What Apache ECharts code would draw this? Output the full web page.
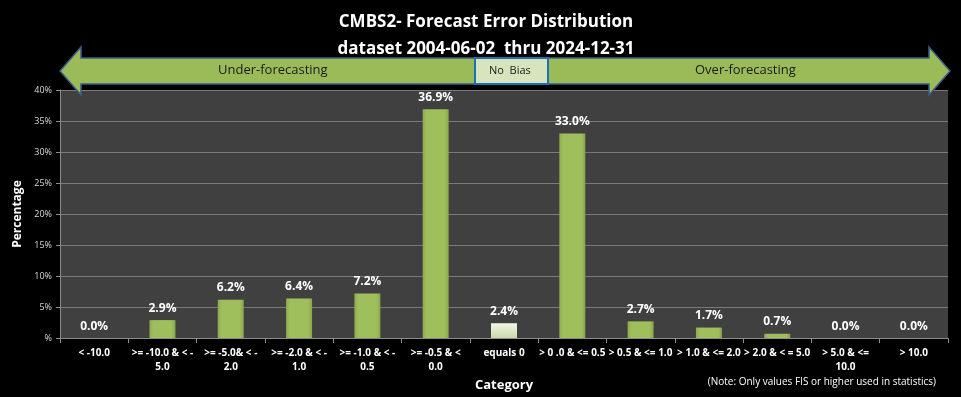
<!DOCTYPE html>
<html>
<head>
<meta charset="utf-8">
<script src="https://cdn.jsdelivr.net/npm/echarts@6/dist/echarts.min.js"></script>
<style>
  html, body { margin: 0; padding: 0; background: #000; }
  #main { width: 961px; height: 397px; }
</style>
</head>
<body>
<div id="main"></div>
<script>
var categories = [
    '< -10.0', '>= -10.0 & < -\n5.0', '>= -5.0& < -\n2.0', '>= -2.0 & < -\n1.0',
    '>= -1.0 & < -\n0.5', '>= -0.5 & <\n0.0', 'equals 0', '> 0 .0 & <= 0.5',
    '> 0.5 & <= 1.0', '> 1.0 & <= 2.0', '> 2.0 & < = 5.0', '> 5.0 & <=\n10.0', '> 10.0'
];
var percentValues = [0.0, 2.9, 6.2, 6.4, 7.2, 36.9, 2.4, 33.0, 2.7, 1.7, 0.7, 0.0, 0.0];
var zeroIndex = 6;

var fontFam = '"Open Sans", sans-serif';

// green bars, the "equals 0" bar is paler
function barColor(i) {
    if (i === zeroIndex) {
        return new echarts.graphic.LinearGradient(0, 0, 0, 1, [
            { offset: 0, color: '#f2f7e6' },
            { offset: 1, color: '#c9d9a8' }
        ]);
    }
    return new echarts.graphic.LinearGradient(0, 0, 1, 0, [
        { offset: 0, color: '#8dab4f' },
        { offset: 0.15, color: '#9fbf5c' },
        { offset: 0.85, color: '#9fbf5c' },
        { offset: 1, color: '#87a44c' }
    ]);
}

var seriesData = percentValues.map(function (v, i) {
    return { value: v, itemStyle: { color: barColor(i) } };
});

var myChart = echarts.init(document.getElementById('main'));

var option = {
    backgroundColor: '#000000',
    textStyle: { fontFamily: fontFam },
    title: {
        text: 'CMBS2- Forecast Error Distribution\ndataset 2004-06-02  thru 2024-12-31',
        left: 481,
        textAlign: 'center',
        top: 4,
        textStyle: { color: '#ffffff', fontSize: 17, fontWeight: 'bold', lineHeight: 27, fontFamily: fontFam }
    },
    grid: { left: 60, right: 13, top: 90, bottom: 56, show: true, backgroundColor: '#404040', borderWidth: 0 },
    xAxis: {
        type: 'category',
        data: categories,
        name: 'Category',
        nameLocation: 'middle',
        nameGap: 38,
        nameTextStyle: { color: '#ffffff', fontSize: 13, fontWeight: 'bold' },
        axisLine: { lineStyle: { color: '#8c8c8c' } },
        axisTick: { show: true, length: 5, lineStyle: { color: '#8c8c8c' } },
        axisLabel: { color: '#ffffff', fontSize: 10, fontWeight: 'bold', interval: 0, lineHeight: 14, margin: 8 }
    },
    yAxis: {
        type: 'value',
        min: 0,
        max: 40,
        interval: 5,
        name: 'Percentage',
        nameLocation: 'middle',
        nameGap: 36,
        nameRotate: 90,
        nameTextStyle: { color: '#ffffff', fontSize: 12, fontWeight: 'bold' },
        axisLine: { show: true, lineStyle: { color: '#8c8c8c' } },
        axisTick: { show: true, length: 4, lineStyle: { color: '#8c8c8c' } },
        axisLabel: {
            color: '#d9d9d9', fontSize: 9, margin: 8,
            formatter: function (v) { return v === 0 ? '%' : v + '%'; }
        },
        splitLine: { lineStyle: { color: '#7a7a7a', width: 1 } }
    },
    series: [
        {
            name: 'Percentage',
            type: 'bar',
            barWidth: 26,
            data: seriesData,
            label: {
                show: true,
                position: 'top',
                distance: 6,
                color: '#ffffff',
                fontSize: 12,
                fontWeight: 'bold',
                formatter: function (p) { return p.value.toFixed(1) + '%'; }
            }
        }
    ],
    graphic: [
        {
            type: 'polygon',
            z: 100,
            shape: {
                points: [[60, 71], [81, 47], [81, 58], [929, 58], [929, 47], [950, 71],
                         [929, 95], [929, 84], [81, 84], [81, 95]]
            },
            style: { fill: '#9bbb59', stroke: '#385d8a', lineWidth: 1.5 }
        },
        {
            type: 'rect',
            z: 101,
            shape: { x: 475, y: 58, width: 73, height: 26 },
            style: { fill: '#d7e4bd', stroke: '#1f6fb5', lineWidth: 2 }
        },
        {
            type: 'text', z: 102, left: 218, top: 64,
            style: { text: 'Under-forecasting', fill: '#1a1a1a', fontSize: 13, fontFamily: fontFam }
        },
        {
            type: 'text', z: 102, left: 489, top: 65,
            style: { text: 'No  Bias', fill: '#1a1a1a', fontSize: 11, fontFamily: fontFam }
        },
        {
            type: 'text', z: 102, left: 695, top: 64,
            style: { text: 'Over-forecasting', fill: '#1a1a1a', fontSize: 13, fontFamily: fontFam }
        },
        {
            type: 'text', z: 102, right: 25, top: 377,
            style: { text: '(Note: Only values FIS or higher used in statistics)', fill: '#ffffff', fontSize: 10, fontFamily: fontFam }
        }
    ]
};

myChart.setOption(option);
</script>
</body>
</html>
